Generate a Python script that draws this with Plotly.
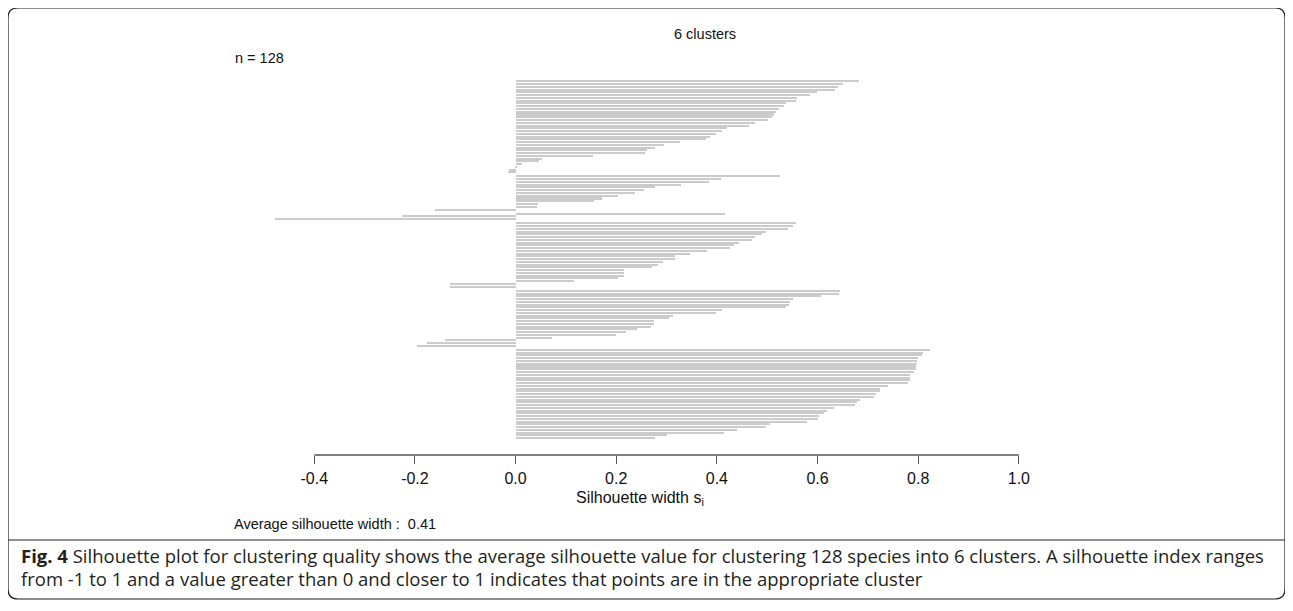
import plotly.graph_objects as go

# ---------------- data (silhouette widths, sorted within cluster) ----------------
cluster_1 = [0.683, 0.651, 0.641, 0.635, 0.599, 0.585, 0.559, 0.557, 0.537, 0.533,
             0.524, 0.518, 0.514, 0.510, 0.502, 0.476, 0.464, 0.420, 0.410, 0.398,
             0.386, 0.378, 0.327, 0.295, 0.277, 0.262, 0.257, 0.154, 0.052, 0.046,
             0.013, 0.002, -0.014, -0.015]
cluster_2 = [0.526, 0.408, 0.384, 0.329, 0.278, 0.255, 0.237, 0.203, 0.172, 0.156,
             0.044, 0.042, -0.160]
cluster_3 = [0.416, -0.226, -0.478]
cluster_4 = [0.557, 0.551, 0.542, 0.498, 0.490, 0.476, 0.470, 0.443, 0.434, 0.426,
             0.380, 0.347, 0.317, 0.317, 0.293, 0.282, 0.272, 0.215, 0.215, 0.215,
             0.203, 0.117, -0.130, -0.131]
cluster_5 = [0.645, 0.643, 0.607, 0.551, 0.545, 0.544, 0.537, 0.410, 0.399, 0.313,
             0.304, 0.276, 0.275, 0.269, 0.241, 0.219, 0.199, 0.072, -0.140, -0.176,
             -0.196]
cluster_6 = [0.823, 0.809, 0.808, 0.799, 0.798, 0.798, 0.796, 0.795, 0.791, 0.784,
             0.783, 0.783, 0.780, 0.740, 0.725, 0.725, 0.717, 0.713, 0.685, 0.678,
             0.675, 0.632, 0.618, 0.613, 0.602, 0.600, 0.579, 0.506, 0.498, 0.440,
             0.414, 0.300, 0.277]
clusters = [cluster_1, cluster_2, cluster_3, cluster_4, cluster_5, cluster_6]

tick_vals = [-0.4, -0.2, 0.0, 0.2, 0.4, 0.6, 0.8, 1.0]
tick_text = ["-0.4", "-0.2", "0.0", "0.2", "0.4", "0.6", "0.8", "1.0"]

title_text = "6 clusters"
n_text = "n = 128"
xlabel_text = "Silhouette width s<sub>i</sub>"
avg_text = "Average silhouette width :  0.41"
caption_1 = ("<b>Fig. 4</b> Silhouette plot for clustering quality shows the average silhouette value "
             "for clustering 128 species into 6 clusters. A silhouette index ranges")
caption_2 = ("from -1 to 1 and a value greater than 0 and closer to 1 indicates that points are in "
             "the appropriate cluster")

# ---------------- layout geometry (screen pixels; page body has an 8px margin) ----------------
OFF = 8
W, H = 1293, 611
plot_left, plot_right = 274, 1039      # screen px  (x = -0.48 .. 1.04)
plot_top, plot_bottom = 75, 455        # screen px
L = plot_left - OFF
R_ = W - (plot_right - OFF)
T = plot_top - OFF
B = H - (plot_bottom - OFF)
PW = W - L - R_
PH = H - T - B


def px(x):
    return (x - OFF - L) / PW


def py(y):
    return (H - B - (y - OFF)) / PH


# bar positions: contiguous inside a cluster, half-bar space between clusters
xs, ys = [], []
pos = 0.0
for ci, cl in enumerate(clusters):
    if ci > 0:
        pos += 0.5
    for v in cl:
        xs.append(v)
        ys.append(pos)
        pos += 1.0

fig = go.Figure()
fig.add_trace(go.Bar(
    x=xs, y=ys, orientation="h", base=0,
    width=0.55,
    marker=dict(color="#cbcbcb", line=dict(width=0)),
    hoverinfo="x",
    showlegend=False,
))

text_font = dict(family="Liberation Sans, Arial, sans-serif", color="#111111")
cap_font = dict(family="Open Sans, sans-serif", size=18.5, color="#231f20")

annotations = [
    dict(text=title_text, x=px(705), y=py(34), xanchor="center", yanchor="middle",
         font=dict(size=14.5, **text_font)),
    dict(text=n_text, x=px(233), y=py(58), xanchor="left", yanchor="middle",
         font=dict(size=14.5, **text_font)),
    dict(text=xlabel_text, x=px(640), y=py(498), xanchor="center", yanchor="middle",
         font=dict(size=16, **text_font)),
    dict(text=avg_text, x=px(232), y=py(524), xanchor="left", yanchor="middle",
         font=dict(size=14.5, **text_font)),
    dict(text=caption_1, x=px(19), y=py(555), xanchor="left", yanchor="middle",
         font=cap_font),
    dict(text=caption_2, x=px(19), y=py(578), xanchor="left", yanchor="middle",
         font=cap_font),
]
for a in annotations:
    a.update(xref="paper", yref="paper", showarrow=False)

# rounded figure frame + caption separator
x0, x1, y0, y1, rr = 8, 1285, 8, 599, 10
frame_path = (
    f"M {px(x0)},{py(y0 + rr)} Q {px(x0)},{py(y0)} {px(x0 + rr)},{py(y0)} "
    f"L {px(x1 - rr)},{py(y0)} Q {px(x1)},{py(y0)} {px(x1)},{py(y0 + rr)} "
    f"L {px(x1)},{py(y1 - rr)} Q {px(x1)},{py(y1)} {px(x1 - rr)},{py(y1)} "
    f"L {px(x0 + rr)},{py(y1)} Q {px(x0)},{py(y1)} {px(x0)},{py(y1 - rr)} Z"
)
shapes = [
    dict(type="path", path=frame_path, xref="paper", yref="paper",
         line=dict(color="#231f20", width=1.2)),
    dict(type="line", xref="paper", yref="paper", x0=px(x0), x1=px(x1), y0=py(540), y1=py(540),
         line=dict(color="#231f20", width=1)),
    # axis line spanning the tick range only (R style)
    dict(type="line", xref="x", yref="paper", x0=tick_vals[0], x1=tick_vals[-1], y0=0, y1=0,
         line=dict(color="#555555", width=1.3)),
]

y_top = (plot_top - 81.7) / 2.754
y_bottom = (plot_bottom - 81.7) / 2.754
fig.update_layout(
    width=W, height=H,
    margin=dict(l=L, r=R_, t=T, b=B, pad=0),
    paper_bgcolor="white", plot_bgcolor="white",
    bargap=0,
    xaxis=dict(range=[-0.48, 1.04], tickvals=tick_vals, ticktext=tick_text,
               ticks="outside", ticklen=8, tickwidth=1.3, tickcolor="#555555",
               showline=False, showgrid=False, zeroline=False,
               ticklabelstandoff=1,
               tickfont=dict(size=16, **text_font)),
    yaxis=dict(range=[y_bottom, y_top], showticklabels=False, showgrid=False,
               zeroline=False, showline=False, ticks=""),
    annotations=annotations,
    shapes=shapes,
)

fig.write_html("out.html")
